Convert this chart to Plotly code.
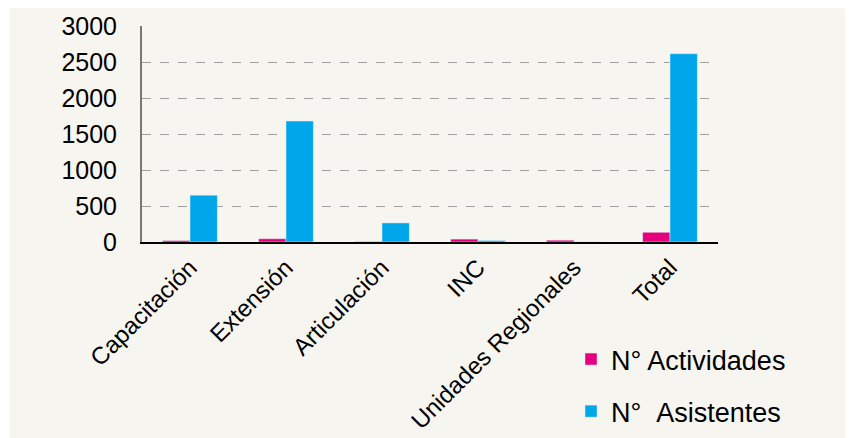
import plotly.graph_objects as go

categories = ["Capacitación", "Extensión", "Articulación", "INC", "Unidades Regionales", "Total"]
actividades = [20, 45, 5, 40, 25, 135]
asistentes = [650, 1680, 265, 20, 2, 2615]
y_ticks = [0, 500, 1000, 1500, 2000, 2500, 3000]

PINK = "#e5007e"
BLUE = "#00a6ea"
BG = "#f6f5f0"
FONT = "Liberation Sans"

fig = go.Figure()
fig.add_trace(go.Bar(x=categories, y=actividades, name="N° Actividades",
                     marker_color=PINK, legendgroup="a"))
fig.add_trace(go.Bar(x=categories, y=asistentes, name="N°\u00a0\u00a0Asistentes",
                     marker_color=BLUE, legendgroup="b"))

# page body has an 8px margin, so the figure canvas starts at (8, 8)
W, H = 845, 430
L, R, T, B = 134, 135, 18, 196
pw, ph = W - L - R, H - T - B

# cream background panel (canvas x 2..W, y 0..H)
fig.add_shape(type="rect", xref="paper", yref="paper", layer="below",
              x0=(2 - L) / pw, x1=(W + 5 - L) / pw,
              y0=(T + ph - H - 5) / ph, y1=(T + ph) / ph,
              fillcolor=BG, line_width=0)

fig.update_layout(
    width=W, height=H,
    margin=dict(l=L, r=R, t=T, b=B, autoexpand=False),
    paper_bgcolor="white",
    plot_bgcolor="rgba(0,0,0,0)",
    barmode="group", bargap=0.43, bargroupgap=0,
    font=dict(family=FONT, size=25, color="black"),
    showlegend=True,
    legend=dict(xref="container", yref="container",
                x=563 / W, y=1 - 327 / H, xanchor="left", yanchor="top",
                bgcolor="rgba(0,0,0,0)", font=dict(size=27), tracegroupgap=14,
                itemwidth=30),
    xaxis=dict(tickangle=-45, showline=True, linecolor="black", linewidth=2,
               ticks="", showgrid=False, tickfont=dict(size=24), automargin=False),
    yaxis=dict(range=[0, 3000], tickvals=y_ticks, showline=True, linecolor="#777777",
               linewidth=2, showgrid=True, gridcolor="#a0a0a0", griddash="dash",
               gridwidth=1, ticks="", ticklabelstandoff=18, zeroline=False,
               tickfont=dict(size=25), automargin=False),
)

fig.write_html("out.html")
